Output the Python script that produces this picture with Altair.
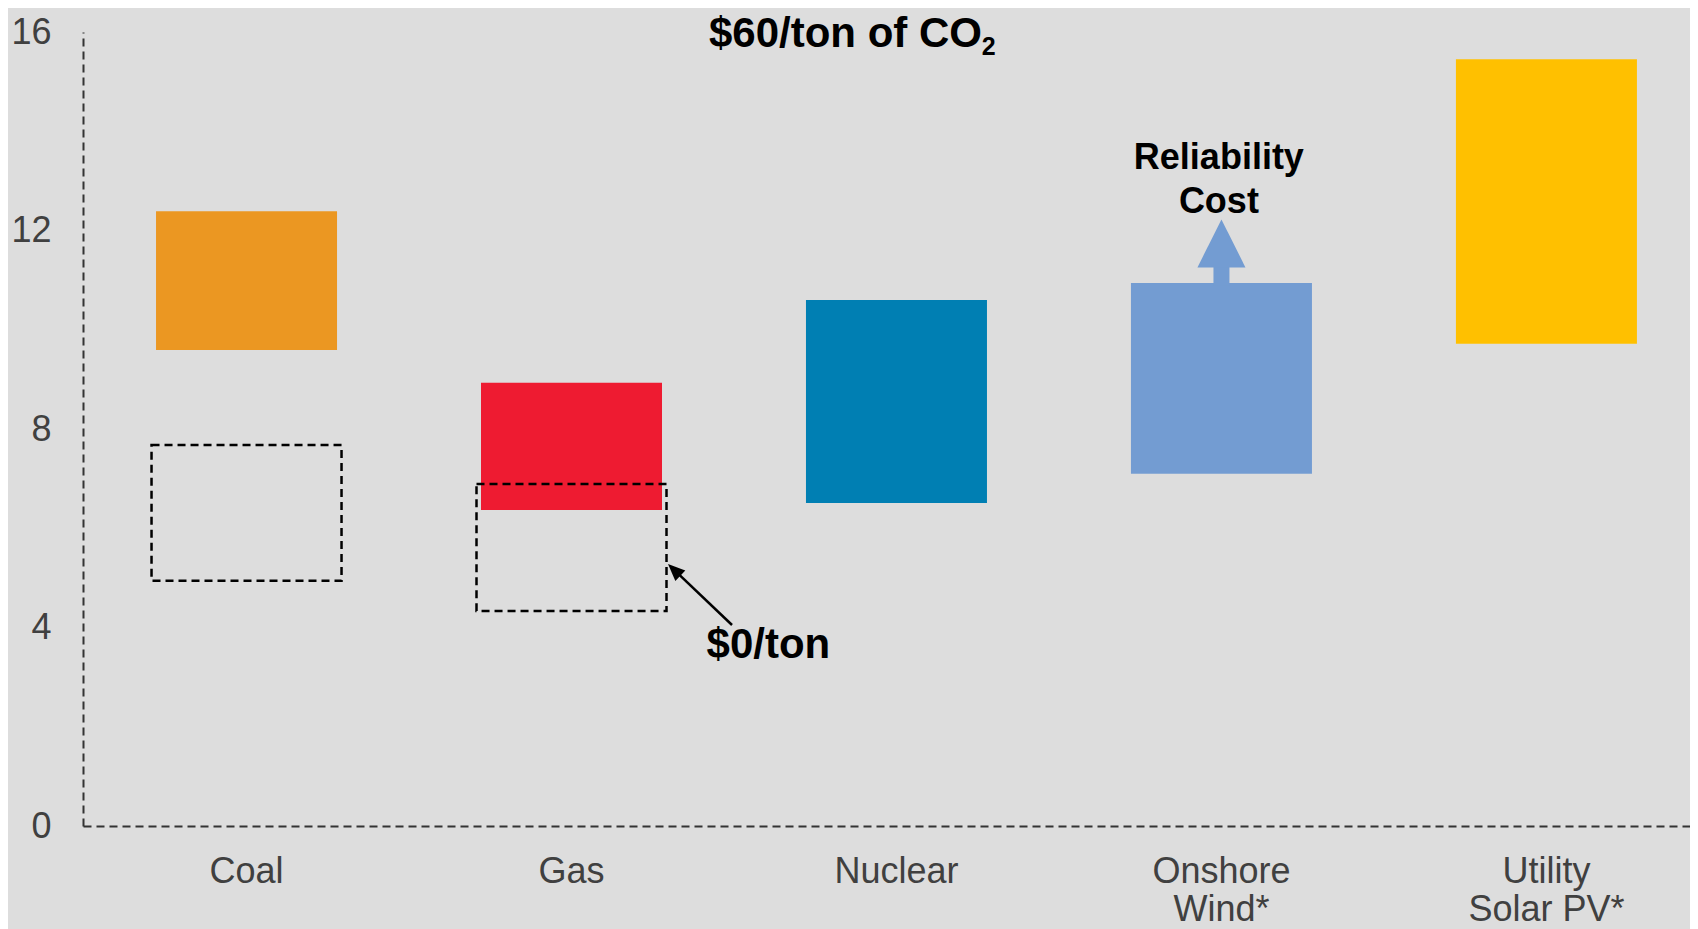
import json
import altair as alt
import pandas as pd

# ---- data ----
categories = ["Coal", "Gas", "Nuclear", "Onshore Wind*", "Utility Solar PV*"]
label_lines = [["Coal"], ["Gas"], ["Nuclear"], ["Onshore", "Wind*"], ["Utility", "Solar PV*"]]
cost_low = [9.59, 6.37, 6.51, 7.10, 9.72]      # range at $60/ton of CO2
cost_high = [12.39, 8.93, 10.60, 10.94, 15.45]
bar_colors = ["#EB9722", "#EE1B31", "#007FB3", "#739CD2", "#FFC000"]

zero_categories = ["Coal", "Gas"]              # range at $0/ton
zero_low = [4.94, 4.33]
zero_high = [7.68, 6.89]

# reliability-cost arrow above onshore wind
rel_category = ["Onshore Wind*"]
rel_stem_low = [10.90]
rel_stem_high = [11.30]
rel_head_y = [11.74]

# annotation positions in category-step units (0 = left edge of plot)
ann_text = ["$60/ton of CO", "2", "$0/ton", "Reliability", "Cost"]
ann_x = [2.346, 2.787, 2.109, 3.495, 3.495]
ann_y = [15.70, 15.53, 3.385, 13.24, 12.35]
ann_size = [42, 25, 42, 36, 36]

arrow_tail_x = [1.997]
arrow_tail_y = [4.05]
arrow_head_x = [1.819]
arrow_head_y = [5.16]

y_ticks = [0, 4, 8, 12, 16]

FONT = "Liberation Sans, Arial, sans-serif"
W, H = 1607, 794
STEP_UNITS = W / 325.0

bars_df = pd.DataFrame({"cat": categories, "low": cost_low, "high": cost_high})
zero_df = pd.DataFrame({"cat": zero_categories, "low": zero_low, "high": zero_high})
rel_df = pd.DataFrame({"cat": rel_category, "low": rel_stem_low, "high": rel_stem_high,
                       "head": rel_head_y})
ann_df = pd.DataFrame({"t": ann_text, "xu": ann_x, "yv": ann_y, "fs": ann_size})
arrow_df = pd.DataFrame({"xu": arrow_tail_x, "yv": arrow_tail_y,
                         "xu2": arrow_head_x, "yv2": arrow_head_y})

parts = [f"datum.value === '{c}' ? {json.dumps(l)}" for c, l in zip(categories, label_lines)]
label_expr = " : ".join(parts) + " : datum.value"

xscale = alt.Scale(domain=categories, paddingInner=0.5, paddingOuter=0.2225, align=0.569)
yscale = alt.Scale(domain=[0, 16], nice=False, zero=True)

xaxis = alt.Axis(title=None, labelExpr=label_expr, labelAngle=0, labelFont=FONT,
                 labelFontSize=36, labelColor="#404040", labelLineHeight=38,
                 labelPadding=28, ticks=False, tickSize=0, grid=False,
                 domainDash=[8, 5], domainColor="#333333", domainWidth=2)
yaxis = alt.Axis(title=None, values=y_ticks, labelFont=FONT, labelFontSize=36,
                 labelColor="#404040", labelPadding=32, ticks=False, tickSize=0,
                 grid=False, domainDash=[8, 5], domainColor="#333333", domainWidth=2)

X = alt.X("cat:N", sort=categories, scale=xscale, axis=xaxis)

bars = alt.Chart(bars_df).mark_bar(width=181).encode(
    x=X,
    y=alt.Y("low:Q", scale=yscale, axis=yaxis),
    y2="high:Q",
    color=alt.Color("cat:N", scale=alt.Scale(domain=categories, range=bar_colors), legend=None),
)

dashed = alt.Chart(zero_df).mark_bar(width=190, fillOpacity=0, stroke="black",
                                     strokeWidth=2.5, strokeDash=[8, 5]).encode(
    x=X,
    y=alt.Y("low:Q", scale=yscale, axis=yaxis),
    y2="high:Q",
)

stem = alt.Chart(rel_df).mark_bar(width=16, color="#739CD2").encode(
    x=X,
    y=alt.Y("low:Q", scale=yscale, axis=yaxis),
    y2="high:Q",
)

head = alt.Chart(rel_df).mark_point(shape="M0,-1L1,1L-1,1Z", size=2304, filled=True,
                                    color="#739CD2", opacity=1, strokeWidth=0).encode(
    x=X,
    y=alt.Y("head:Q", scale=yscale, axis=yaxis),
)

band_layer = alt.layer(bars, stem, head, dashed)

XU = alt.X("xu:Q", scale=alt.Scale(domain=[0, STEP_UNITS], nice=False, zero=False), axis=None)

rule = alt.Chart(arrow_df).mark_rule(color="black", strokeWidth=2.5).encode(
    x=XU,
    y=alt.Y("yv:Q", scale=yscale, axis=yaxis),
    x2="xu2:Q",
    y2="yv2:Q",
)

arrowhead = alt.Chart(arrow_df).mark_point(shape="M0,-1L0.85,1L-0.85,1Z", size=289,
                                           filled=True, color="black", opacity=1,
                                           strokeWidth=0, angle=313.6).encode(
    x=alt.X("xu2:Q", scale=alt.Scale(domain=[0, STEP_UNITS], nice=False, zero=False), axis=None),
    y=alt.Y("yv2:Q", scale=yscale, axis=yaxis),
)

texts = alt.Chart(ann_df).mark_text(font=FONT, fontWeight="bold", color="black",
                                    align="center", baseline="alphabetic").encode(
    x=XU,
    y=alt.Y("yv:Q", scale=yscale, axis=yaxis),
    text="t:N",
    size=alt.Size("fs:Q", scale=None),
)

annot_layer = alt.layer(rule, arrowhead, texts)

chart = alt.layer(band_layer, annot_layer).resolve_scale(x="independent").properties(
    width=W, height=H,
    background="#DDDDDD",
    autosize=alt.AutoSizeParams(type="none"),
    padding={"left": 75, "top": 24, "right": 0, "bottom": 103},
).configure_view(strokeWidth=0)

chart.save("out.html", embed_options={"renderer": "svg", "actions": False})
